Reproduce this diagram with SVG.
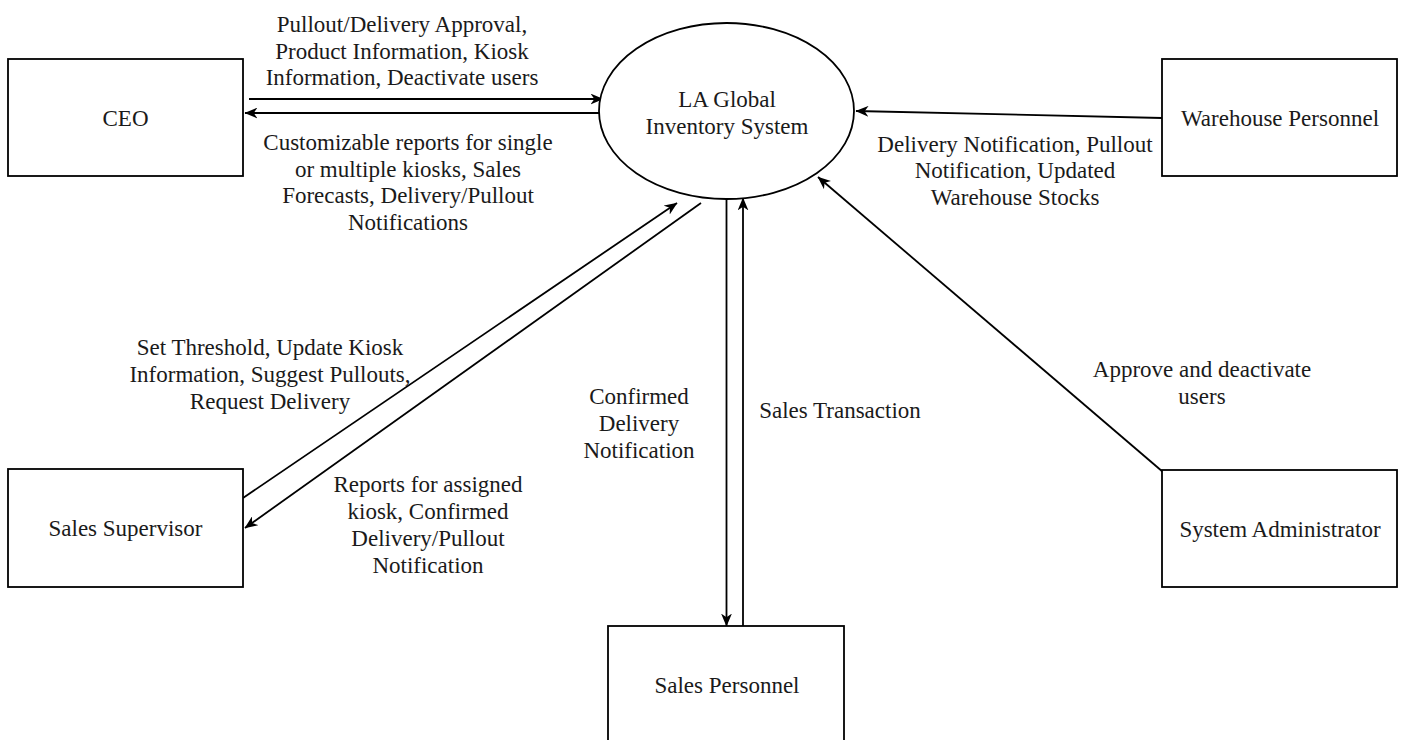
<svg xmlns="http://www.w3.org/2000/svg" width="1403" height="740" viewBox="0 0 1403 740">
<defs>
<marker id="arr" viewBox="0 0 12 10" refX="11.5" refY="5" markerWidth="13" markerHeight="11" markerUnits="userSpaceOnUse" orient="auto">
<path d="M0,0 L12,5 L0,10 L3.5,5 z" fill="#000"/>
</marker>
<style>
.box{fill:#fff;stroke:#000;stroke-width:1.8}
.lbl{font-family:"Liberation Serif","Times New Roman",serif;font-size:23px;fill:#1a1a1a;text-anchor:middle}
.ln{stroke:#000;stroke-width:1.8;fill:none}
.ln.a{marker-end:url(#arr)}
</style>
</defs>
<rect width="1403" height="740" fill="#fff"/>

<g id="connectors">
<line class="ln a" x1="249" y1="99" x2="603" y2="99"/>
<line class="ln a" x1="599" y1="113" x2="245" y2="113"/>
<line class="ln a" x1="1162" y1="118" x2="856" y2="111"/>
<line class="ln a" x1="243" y1="498" x2="677" y2="203"/>
<line class="ln a" x1="701" y1="203" x2="245" y2="528"/>
<line class="ln a" x1="726.5" y1="199" x2="726.5" y2="626"/>
<line class="ln a" x1="743" y1="626" x2="743" y2="198"/>
<line class="ln a" x1="1163" y1="472" x2="818" y2="177"/>
</g>

<g id="system">
<ellipse cx="726.5" cy="111" rx="127.5" ry="88" class="box"/>
<text class="lbl" x="727" y="107">LA Global</text>
<text class="lbl" x="727" y="134">Inventory System</text>
</g>

<g id="ceo">
<rect class="box" x="8" y="59" width="235" height="117"/>
<text class="lbl" x="125.5" y="125.5">CEO</text>
</g>

<g id="warehouse">
<rect class="box" x="1162" y="59" width="235" height="117"/>
<text class="lbl" x="1280" y="125.5">Warehouse Personnel</text>
</g>

<g id="supervisor">
<rect class="box" x="8" y="469" width="235" height="118"/>
<text class="lbl" x="125.5" y="536">Sales Supervisor</text>
</g>

<g id="personnel">
<rect class="box" x="608" y="626" width="236" height="118"/>
<text class="lbl" x="727" y="693">Sales Personnel</text>
</g>

<g id="admin">
<rect class="box" x="1162" y="470" width="235" height="117"/>
<text class="lbl" x="1280" y="537">System Administrator</text>
</g>

<g id="labels">
<text class="lbl" x="402" y="32">Pullout/Delivery Approval,</text>
<text class="lbl" x="402" y="58.5">Product Information, Kiosk</text>
<text class="lbl" x="402" y="85">Information, Deactivate users</text>

<text class="lbl" x="408" y="150">Customizable reports for single</text>
<text class="lbl" x="408" y="177">or multiple kiosks, Sales</text>
<text class="lbl" x="408" y="203">Forecasts, Delivery/Pullout</text>
<text class="lbl" x="408" y="230">Notifications</text>

<text class="lbl" x="1015" y="152">Delivery Notification, Pullout</text>
<text class="lbl" x="1015" y="178">Notification, Updated</text>
<text class="lbl" x="1015" y="205">Warehouse Stocks</text>

<text class="lbl" x="270" y="355">Set Threshold, Update Kiosk</text>
<text class="lbl" x="270" y="382">Information, Suggest Pullouts,</text>
<text class="lbl" x="270" y="409">Request Delivery</text>

<text class="lbl" x="428" y="492">Reports for assigned</text>
<text class="lbl" x="428" y="519">kiosk, Confirmed</text>
<text class="lbl" x="428" y="546">Delivery/Pullout</text>
<text class="lbl" x="428" y="573">Notification</text>

<text class="lbl" x="639" y="404">Confirmed</text>
<text class="lbl" x="639" y="431">Delivery</text>
<text class="lbl" x="639" y="458">Notification</text>

<text class="lbl" x="840" y="418">Sales Transaction</text>

<text class="lbl" x="1202" y="377">Approve and deactivate</text>
<text class="lbl" x="1202" y="404">users</text>
</g>
</svg>
